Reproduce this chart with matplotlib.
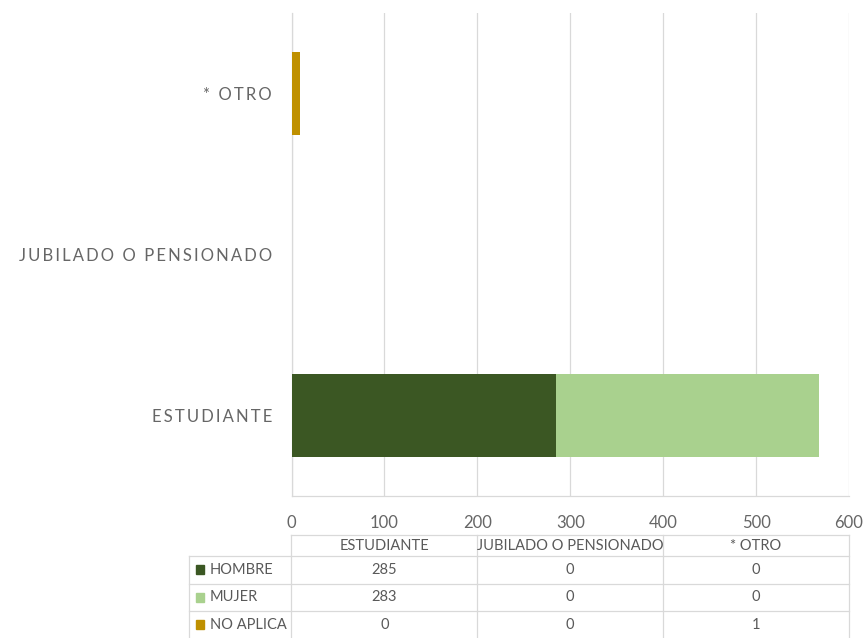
import numpy as np
import matplotlib
matplotlib.use("Agg")
import matplotlib.pyplot as plt
from matplotlib.patches import Rectangle

categories = ["ESTUDIANTE", "JUBILADO O PENSIONADO", "* OTRO"]
series_names = ["HOMBRE", "MUJER", "NO APLICA"]
hombre = [285, 0, 0]
mujer = [283, 0, 0]
no_aplica = [0, 0, 1]
colors = ["#3B5723", "#A9D18E", "#BF9000"]
xticks = [0, 100, 200, 300, 400, 500, 600]

gray = "#595959"
grid_c = "#D9D9D9"
fam = ["Lato", "DejaVu Sans"]
plt.rcParams["font.family"] = fam

def spaced(s):
    # Excel-like letter spacing on the category labels
    return "\u2009".join(list(s))

fig = plt.figure(figsize=(8.68, 6.38), dpi=100)
ax = fig.add_axes([291.5 / 868, 1 - 496 / 638, (849 - 291.5) / 868, (496 - 13) / 638])

series = [hombre, mujer, no_aplica]
y = np.arange(len(categories))
left = np.zeros(len(categories))
min_vis = 9.5  # Excel keeps very small non-zero bars a few pixels wide
for name, vals, c in zip(series_names, series, colors):
    vals = np.array(vals, dtype=float)
    shown = np.where(vals > 0, np.maximum(vals, min_vis), 0)
    ax.barh(y, shown, left=left, height=0.51, color=c, linewidth=0,
            label=name, zorder=3)
    left += vals

ax.set_xlim(0, 600)
ax.set_ylim(-0.5, len(categories) - 0.5)
ax.set_xticks(xticks)
ax.set_xticklabels([str(t) for t in xticks], fontsize=12, color="#666666")
ax.set_yticks(y)
ax.set_yticklabels([spaced(c) for c in categories], fontsize=12, color="#666666")
ax.tick_params(axis="both", length=0)
ax.tick_params(axis="y", pad=14)
ax.tick_params(axis="x", pad=14)
ax.grid(axis="x", color=grid_c, linewidth=0.9, zorder=0)
for side in ["top", "right"]:
    ax.spines[side].set_visible(False)
ax.spines["left"].set_color(grid_c)
ax.spines["bottom"].set_color(grid_c)
ax.spines["left"].set_linewidth(0.9)
ax.spines["bottom"].set_linewidth(0.9)

# data table under the chart
tx0 = -110.3
ax_t = fig.add_axes([189 / 868, 0, (849 - 189) / 868, (638 - 535) / 638])
ax_t.set_xlim(tx0, 600)
row_edges = [0, 21, 48.5, 76, 103.5]
ax_t.set_ylim(103, 0)
ax_t.axis("off")
col_edges = [0, 200, 400, 600]
lw = 0.9
# header row (no label cell)
ax_t.plot([0, 600], [row_edges[0], row_edges[0]], color=grid_c, lw=lw, clip_on=False)
for i in range(1, len(row_edges)):
    ax_t.plot([tx0, 600], [row_edges[i], row_edges[i]], color=grid_c, lw=lw, clip_on=False)
for cx in col_edges:
    ax_t.plot([cx, cx], [row_edges[0], row_edges[-1]], color=grid_c, lw=lw, clip_on=False)
ax_t.plot([tx0, tx0], [row_edges[1], row_edges[-1]], color=grid_c, lw=lw, clip_on=False)

for j, cat in enumerate(categories):
    cx = (col_edges[j] + col_edges[j + 1]) / 2
    ax_t.text(cx, (row_edges[0] + row_edges[1]) / 2 + 1, cat, ha="center", va="center",
              fontsize=10.5, color=gray)

for i, (name, vals, c) in enumerate(zip(series_names, series, colors)):
    yc = (row_edges[i + 1] + row_edges[i + 2]) / 2
    ax_t.add_patch(Rectangle((tx0 + 7, yc - 4.5), 9.5, 9, color=c, clip_on=False))
    ax_t.text(tx0 + 22.5, yc, name, ha="left", va="center", fontsize=10.5, color=gray)
    for j, v in enumerate(vals):
        cx = (col_edges[j] + col_edges[j + 1]) / 2
        ax_t.text(cx, yc, str(v), ha="center", va="center", fontsize=10.5, color=gray)

fig.savefig("out.png", dpi=100, facecolor="white")
